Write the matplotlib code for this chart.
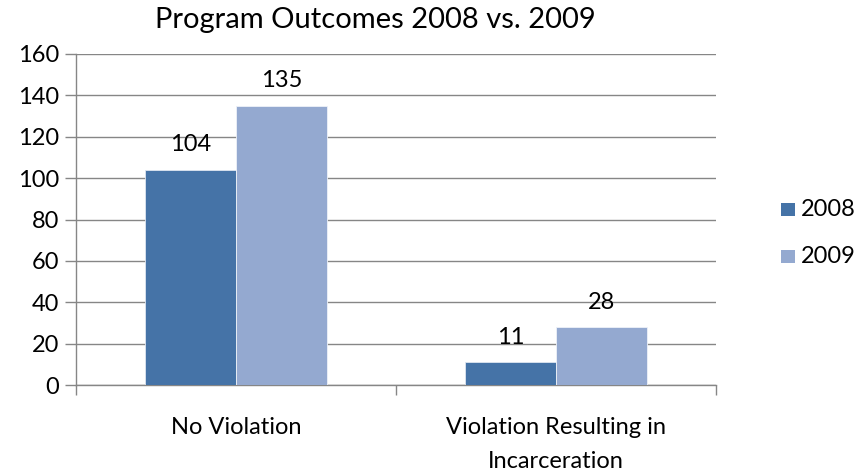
import matplotlib
matplotlib.use("Agg")
import matplotlib.pyplot as plt
import numpy as np
from matplotlib.patches import Rectangle

categories = ["No Violation", "Violation Resulting in\nIncarceration"]
series_names = ["2008", "2009"]
values_2008 = [104, 11]
values_2009 = [135, 28]
yticks = [0, 20, 40, 60, 80, 100, 120, 140, 160]

colors = ["#4573A7", "#94A9D0"]

plt.rcParams['font.family'] = ['Lato', 'DejaVu Sans']

FS = 17
W, H = 858, 472
fig = plt.figure(figsize=(W/100, H/100), dpi=100)
ax = fig.add_axes([76/W, 1-385/H, (716-76)/W, (385-54)/H])

x = np.arange(len(categories))
bw = 0.284
b1 = ax.bar(x - bw/2, values_2008, bw, color=colors[0], edgecolor="#dfe6f0", linewidth=0.6, zorder=3)
b2 = ax.bar(x + bw/2, values_2009, bw, color=colors[1], edgecolor="#eef2f8", linewidth=0.6, zorder=3)

for bars, vals in ((b1, values_2008), (b2, values_2009)):
    for r, v in zip(bars, vals):
        ax.text(r.get_x() + r.get_width()/2, v + 7, str(v), ha="center", va="bottom",
                fontsize=FS, color="black")

ax.set_xlim(-0.5, len(categories) - 0.5)
ax.set_ylim(0, 160)
ax.set_yticks(yticks)
ax.set_yticklabels([str(t) for t in yticks], fontsize=FS)
ax.yaxis.grid(True, color="#868686", linewidth=1.0, zorder=0)
ax.set_axisbelow(True)
ax.tick_params(axis="y", length=8, width=1, color="#868686", pad=4)

ax.set_xticks(x)
ax.set_xticklabels(categories, fontsize=FS, linespacing=1.75)
ax.tick_params(axis="x", length=0, pad=23)
# category boundary ticks
ax.set_xticks([-0.5, 0.5, 1.5], minor=True)
ax.tick_params(axis="x", which="minor", length=7, width=1, color="#868686", direction="out")

for s in ["top", "right"]:
    ax.spines[s].set_visible(False)
for s in ["left", "bottom"]:
    ax.spines[s].set_color("#868686")
    ax.spines[s].set_linewidth(1.0)

fig.text(375/W, 1-20/H, "Program Outcomes 2008 vs. 2009", ha="center", va="center", fontsize=21)

# legend drawn manually in figure pixel layout
leg_rows = [209.5, 256.5]
for name, c, yc in zip(series_names, colors, leg_rows):
    fig.patches.append(Rectangle((781/W, 1-(yc+6.5)/H), 14/W, 13/H,
                                 transform=fig.transFigure, facecolor=c, edgecolor="none"))
    fig.text(801/W, 1-yc/H, name, ha="left", va="center", fontsize=FS)

fig.savefig("out.png", dpi=100)
